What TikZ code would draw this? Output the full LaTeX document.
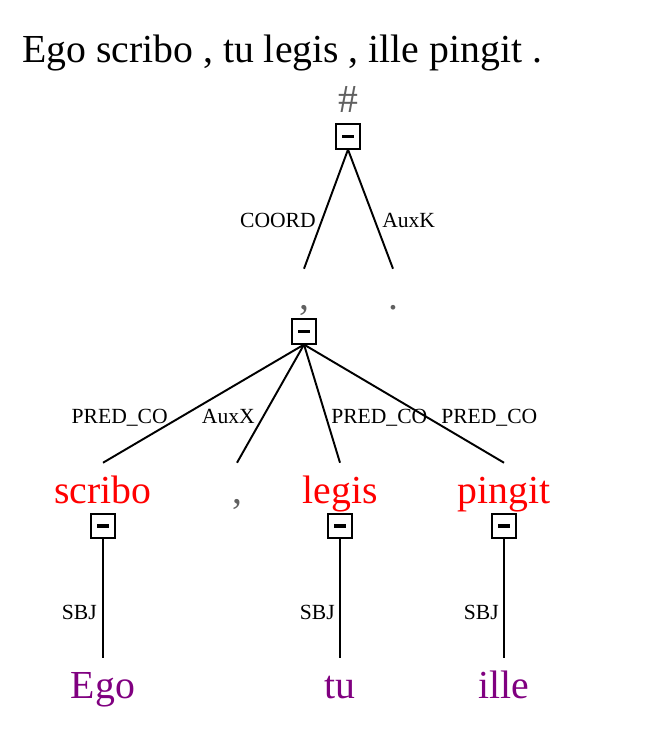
\documentclass[tikz,border=0pt]{standalone}
\usepackage{fontspec}
\setmainfont{Liberation Serif}
\usetikzlibrary{positioning}
\definecolor{headred}{RGB}{255,0,0}
\definecolor{depviolet}{RGB}{128,0,128}
\definecolor{punctgray}{RGB}{96,96,96}

\begin{document}
\begin{tikzpicture}[
        x=0.75pt, y=-0.75pt,
        word/.style={anchor=base, inner sep=0pt, text height=30pt, text depth=0pt, font=\fontsize{29.8}{34}\selectfont},
        pred/.style={word, text=headred},
        subj/.style={word, text=depviolet},
        punct/.style={word, text=punctgray},
        toggle/.style={draw, line width=1.4pt, fill=white, minimum size=18.2pt, inner sep=0pt},
        branch/.style={line width=1.45pt},
        lbl/.style={inner sep=0pt, font=\fontsize{16.2}{19}\selectfont}
    ]
        \useasboundingbox (0,0) rectangle (645,741);

        \node[anchor=base west, inner sep=0pt, font=\fontsize{29.8}{34}\selectfont] (sentence) at (22,63) {Ego scribo , tu legis , ille pingit .};

        % root
        \node[punct] (root)    at (348,113) {\#};
        \node[toggle] (rootbox) at (348,136.5) {\rule{9pt}{2.8pt}};

        % coordination level
        \node[punct] (coord) at (304,309) {,};
        \node[punct] (auxk)  at (393,309) {.};
        \node[toggle] (coordbox) at (304,331.5) {\rule{9pt}{2.8pt}};

        % predicates
        \node[pred]  (scribo) at (103,503) {scribo};
        \node[punct] (auxx)   at (237,503) {,};
        \node[pred]  (legis)  at (340,503) {legis};
        \node[pred]  (pingit) at (504,503) {pingit};
        \node[toggle] (scribobox) at (103,526) {\rule{9pt}{2.8pt}};
        \node[toggle] (legisbox)  at (340,526) {\rule{9pt}{2.8pt}};
        \node[toggle] (pingitbox) at (504,526) {\rule{9pt}{2.8pt}};

        % subjects
        \node[subj] (ego)  at (103,698) {Ego};
        \node[subj] (tu)   at (340,698) {tu};
        \node[subj] (ille) at (504,698) {ille};

        % branches
        \draw[branch] (rootbox.south) -- (coord.north);
        \draw[branch] (rootbox.south) -- (auxk.north);
        \draw[branch] (coordbox.south) -- (scribo.north);
        \draw[branch] (coordbox.south) -- (auxx.north);
        \draw[branch] (coordbox.south) -- (legis.north);
        \draw[branch] (coordbox.south) -- (pingit.north);
        \draw[branch] (scribobox.south) -- (ego.north);
        \draw[branch] (legisbox.south) -- (tu.north);
        \draw[branch] (pingitbox.south) -- (ille.north);

        % afun labels
        \node[lbl, anchor=base east] (lcoord) at (316,228) {COORD};
        \node[lbl, anchor=base west] (lauxk)  at (382,228) {AuxK};
        \node[lbl, anchor=base east] (lpred1) at (168,423) {PRED\_CO};
        \node[lbl, anchor=base east] (lauxx)  at (255,423) {AuxX};
        \node[lbl, anchor=base west] (lpred2) at (331,423) {PRED\_CO};
        \node[lbl, anchor=base west] (lpred3) at (441,423) {PRED\_CO};
        \node[lbl, anchor=base east] (lsbj1)  at (97,619)  {SBJ};
        \node[lbl, anchor=base east] (lsbj2)  at (335,619) {SBJ};
        \node[lbl, anchor=base east] (lsbj3)  at (499,619) {SBJ};
    \end{tikzpicture}
\end{document}
